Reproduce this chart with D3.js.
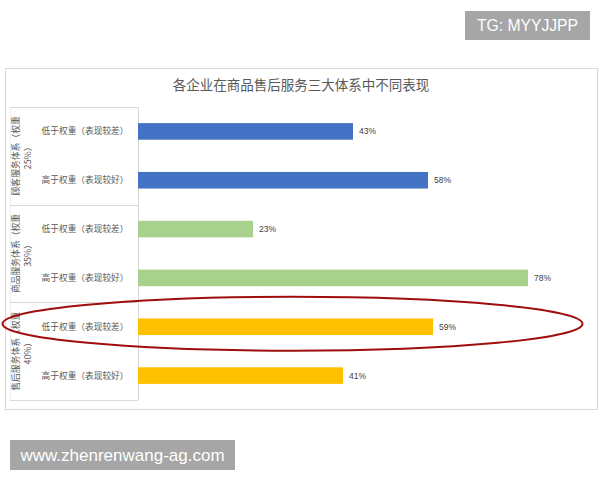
<!DOCTYPE html>
<html>
<head>
<meta charset="utf-8">
<script src="https://cdn.jsdelivr.net/npm/d3@7"></script>
<style>
  body { margin: 0; background: #fff; }
  .cjk { font-family: "Noto Sans CJK SC", "Noto Sans", sans-serif; }
  .latin { font-family: "Liberation Sans", Arial, sans-serif; }
</style>
</head>
<body>
<div id="chart"></div>
<script>
const WIDTH = 600, HEIGHT = 480;

// chart data
const title = "各企业在商品售后服务三大体系中不同表现";
const groups = ["顾客服务体系（权重25%）", "商品服务体系（权重35%）", "售后服务体系（权重40%）"];
const groupLines = [["顾客服务体系（权重", "25%）"], ["商品服务体系（权重", "35%）"], ["售后服务体系（权重", "40%）"]];
const subLabels = ["低于权重（表现较差）", "高于权重（表现较好）"];
const values = [43, 58, 23, 78, 59, 41];   // percent, top to bottom
const groupColors = ["#4472C4", "#A9D18E", "#FFC000"];
const highlightIndex = 4; // 售后服务体系 / 低于权重

const rows = values.map((v, i) => ({
    id: i,
    group: Math.floor(i / 2),
    label: subLabels[i % 2],
    value: v
}));

const svg = d3.select("#chart").append("svg")
    .attr("width", WIDTH)
    .attr("height", HEIGHT);

// chart frame
svg.append("rect")
    .attr("x", 5.5).attr("y", 68.5)
    .attr("width", 592).attr("height", 341)
    .attr("fill", "#fff")
    .attr("stroke", "#d9d9d9");

svg.append("text")
    .attr("class", "cjk")
    .attr("x", 301).attr("y", 90)
    .attr("text-anchor", "middle")
    .attr("font-size", 13.5)
    .attr("fill", "#595959")
    .text(title);

const PLOT_LEFT = 138, PLOT_TOP = 107, PLOT_BOTTOM = 400;
const x = d3.scaleLinear().domain([0, 90]).range([PLOT_LEFT, PLOT_LEFT + 450]);
const y = d3.scaleBand()
    .domain(rows.map(d => d.id))
    .range([PLOT_TOP, PLOT_BOTTOM])
    .paddingInner(0.66)
    .paddingOuter(0.33);
const step = y.step();

// category table
const table = svg.append("g").attr("stroke", "#d9d9d9").attr("fill", "none");
table.append("line")
    .attr("x1", PLOT_LEFT + 0.5).attr("x2", PLOT_LEFT + 0.5)
    .attr("y1", PLOT_TOP).attr("y2", PLOT_BOTTOM);
table.append("line")
    .attr("x1", 10.5).attr("x2", 10.5)
    .attr("y1", PLOT_TOP).attr("y2", PLOT_BOTTOM)
    .attr("stroke", "#eeeeee");
d3.range(groups.length + 1).forEach(g => {
    const yy = Math.round(PLOT_TOP + g * 2 * step) + 0.5;
    table.append("line")
        .attr("x1", 10).attr("x2", PLOT_LEFT)
        .attr("y1", yy).attr("y2", yy);
});

// sub labels
svg.append("g").selectAll("text").data(rows).join("text")
    .attr("class", "cjk")
    .attr("x", 85)
    .attr("y", d => y(d.id) + y.bandwidth() / 2)
    .attr("dy", "0.35em")
    .attr("text-anchor", "middle")
    .attr("font-size", 8.7)
    .attr("fill", "#595959")
    .text(d => d.label);

// group labels (rotated, two lines)
const gl = svg.append("g").selectAll("g").data(groupLines).join("g")
    .attr("transform", (d, i) => `translate(16,${PLOT_TOP + (i * 2 + 1) * step}) rotate(-90)`);
gl.selectAll("text").data(d => d).join("text")
    .attr("class", "cjk")
    .attr("x", 0)
    .attr("y", (d, j) => j * 12)
    .attr("dy", "0.35em")
    .attr("text-anchor", "middle")
    .attr("font-size", 8.8)
    .attr("fill", "#595959")
    .text(d => d);

// bars
svg.append("g").selectAll("rect").data(rows).join("rect")
    .attr("x", x(0))
    .attr("y", d => y(d.id))
    .attr("width", d => x(d.value) - x(0))
    .attr("height", y.bandwidth())
    .attr("fill", d => groupColors[d.group]);

svg.append("g").selectAll("text").data(rows).join("text")
    .attr("class", "latin")
    .attr("x", d => x(d.value) + 6)
    .attr("y", d => y(d.id) + y.bandwidth() / 2)
    .attr("dy", "0.35em")
    .attr("font-size", 8.5)
    .attr("fill", "#404040")
    .text(d => d.value + "%");

// highlight ellipse
const hy = y(highlightIndex) + y.bandwidth() / 2;
svg.append("ellipse")
    .attr("cx", 292.5).attr("cy", hy - 3)
    .attr("rx", 290).attr("ry", 27)
    .attr("fill", "none")
    .attr("stroke", "#a00d0d")
    .attr("stroke-width", 2);

// watermarks
svg.append("rect").attr("x", 465).attr("y", 11).attr("width", 125).attr("height", 29).attr("fill", "#a6a6a6");
svg.append("text")
    .attr("class", "latin")
    .attr("x", 527.5).attr("y", 26).attr("dy", "0.35em")
    .attr("text-anchor", "middle")
    .attr("font-size", 15.7)
    .attr("fill", "#fff")
    .text("TG: MYYJJPP");

svg.append("rect").attr("x", 10).attr("y", 440).attr("width", 225).attr("height", 30).attr("fill", "#a6a6a6");
svg.append("text")
    .attr("class", "latin")
    .attr("x", 122.5).attr("y", 455).attr("dy", "0.35em")
    .attr("text-anchor", "middle")
    .attr("font-size", 17)
    .attr("fill", "#fff")
    .text("www.zhenrenwang-ag.com");
</script>
</body>
</html>
